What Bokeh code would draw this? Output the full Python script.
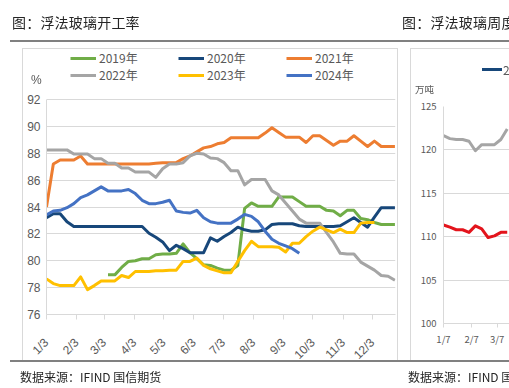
import math
import datetime as dt

from bokeh.plotting import figure
from bokeh.layouts import row
from bokeh.models import (Range1d, FixedTicker, Legend, LegendItem, ColumnDataSource, Div)
from bokeh.core.properties import value
from bokeh.embed import file_html
from bokeh.resources import INLINE

# ---------------- texts ----------------
left_title = "图：浮法玻璃开工率"
right_title = "图：浮法玻璃周度库存"
source_text = "数据来源：IFIND 国信期货"
unit_left = "%"
unit_right = "万吨"

# ---------------- data: float glass operating rate (%), weekly ----------------
series_names = ["2019年", "2020年", "2021年", "2022年", "2023年", "2024年"]
series_colors = ["#70AD47", "#17477A", "#ED7D31", "#A5A5A5", "#FFC000", "#4472C4"]

rate_2019_first_week = 9
rate_2019 = [78.95, 78.95, 79.5, 79.95, 80.0, 80.15, 80.15, 80.45, 80.5, 80.5,
             80.55, 81.25, 80.6, 80.15, 79.7, 79.65, 79.45, 79.3, 79.3, 79.65,
             83.9, 84.3, 84.05, 84.05, 84.05, 84.75, 84.75, 84.75, 84.4, 84.05,
             84.05, 84.05, 83.75, 83.7, 83.35, 83.75, 83.75, 83.15, 83.05, 82.85,
             82.7, 82.7, 82.7]
rate_2020 = [83.2, 83.5, 83.5, 82.9, 82.55, 82.55, 82.55, 82.55, 82.55, 82.55,
             82.55, 82.55, 82.55, 82.55, 82.55, 82.05, 81.75, 81.4, 80.75, 81.15,
             80.9, 80.6, 80.6, 80.6, 81.7, 81.45, 81.8, 82.1, 82.5, 82.3,
             82.2, 82.2, 82.3, 82.7, 82.75, 82.75, 82.75, 82.6, 82.55, 82.55,
             82.55, 82.55, 82.55, 82.6, 82.9, 83.2, 82.85, 82.5, 83.25, 83.95,
             83.95, 83.95]
rate_2021 = [84.0, 87.2, 87.5, 87.5, 87.5, 87.8, 87.2, 87.2, 87.2, 87.2,
             87.2, 87.2, 87.2, 87.2, 87.2, 87.2, 87.25, 87.3, 87.3, 87.3,
             87.6, 87.8, 88.1, 88.4, 88.5, 88.7, 88.8, 89.15, 89.15, 89.15,
             89.15, 89.15, 89.5, 89.9, 89.55, 89.2, 89.2, 89.2, 88.8, 89.3,
             89.3, 88.95, 88.6, 88.9, 88.9, 89.3, 88.9, 88.5, 88.9, 88.5,
             88.5, 88.5]
rate_2022 = [88.25, 88.25, 88.25, 88.25, 87.95, 87.95, 87.95, 87.6, 87.6, 87.25,
             87.25, 86.9, 86.9, 86.6, 86.6, 86.6, 86.2, 86.85, 87.2, 87.2,
             87.3, 87.8, 88.0, 87.95, 87.65, 87.6, 87.3, 86.7, 86.7, 85.65,
             86.05, 86.05, 86.05, 85.2, 84.9, 84.3, 83.7, 83.1, 82.8, 82.8,
             82.8, 82.1, 81.4, 80.55, 80.5, 80.5, 79.9, 79.6, 79.3, 78.9,
             78.85, 78.55]
rate_2023 = [78.65, 78.3, 78.15, 78.15, 78.15, 78.8, 77.85, 78.15, 78.5, 78.5,
             78.5, 78.9, 78.75, 79.2, 79.2, 79.2, 79.25, 79.25, 79.3, 79.3,
             79.95, 79.95, 80.2, 79.65, 79.4, 79.25, 79.1, 79.1, 79.95, 80.75,
             81.45, 81.05, 81.05, 81.05, 81.0, 80.65, 81.3, 81.3, 81.8, 82.2,
             82.5, 82.3, 82.1, 82.35, 82.1, 82.1, 82.8, 82.85, 82.85]
rate_2024 = [83.4, 83.7, 83.75, 83.95, 84.25, 84.7, 84.9, 85.2, 85.5, 85.2,
             85.2, 85.2, 85.3, 85.0, 84.5, 84.25, 84.25, 84.35, 84.5, 83.7,
             83.6, 83.55, 83.75, 83.2, 82.9, 82.8, 82.8, 82.8, 83.1, 83.45,
             83.3, 82.9, 82.2, 81.6, 81.3, 81.1, 80.9, 80.55]

left_tick_labels = ["1/3", "2/3", "3/3", "4/3", "5/3", "6/3",
                    "7/3", "8/3", "9/3", "10/3", "11/3", "12/3"]
left_y_ticks = [76, 78, 80, 82, 84, 86, 88, 90, 92]

# ---------------- data: right panel (weekly inventory, partly visible) ----------------
right_tick_labels = ["1/7", "2/7", "3/7"]
right_y_ticks = [100, 105, 110, 115, 120, 125]
inv_gray = [121.65, 121.3, 121.2, 121.2, 121.0, 119.9, 120.6, 120.6, 120.6, 121.2, 122.4]
inv_red = [111.35, 111.1, 110.8, 110.8, 110.5, 111.25, 110.9, 109.9, 110.1, 110.5, 110.5]
right_legend_first = "2024年"

DAYS_PER_WEEK = 7
GRID = "#D9D9D9"
LABEL = "#595959"
RULE = "#808080"
LATIN = "Liberation Sans Narrow, Noto Sans CJK SC"
CJK = "Noto Sans CJK SC"


def day_offsets(labels, year=2021):
    dates = []
    for lab in labels:
        m, d = lab.split("/")
        dates.append(dt.date(year, int(m), int(d)))
    return [(x - dates[0]).days for x in dates]


def style_axes(p, xt, xlabels, yt, fsize, xorient, xstand, ystand, tick_out):
    p.frame_align = False
    p.outline_line_color = None
    p.background_fill_color = "white"
    p.border_fill_color = "white"
    p.xgrid.grid_line_color = None
    p.ygrid.grid_line_color = GRID
    p.ygrid.grid_line_width = 1
    p.xaxis.ticker = FixedTicker(ticks=xt)
    p.xaxis.major_label_overrides = {t: lab for t, lab in zip(xt, xlabels)}
    if xorient is not None:
        p.xaxis.major_label_orientation = xorient
    p.xaxis.axis_line_color = GRID
    p.xaxis.major_tick_line_color = GRID
    p.xaxis.major_tick_out = tick_out
    p.xaxis.major_tick_in = 0
    p.xaxis.minor_tick_line_color = None
    p.xaxis.major_label_standoff = xstand
    p.yaxis.ticker = FixedTicker(ticks=yt)
    p.yaxis.bounds = (min(yt), max(yt))
    p.yaxis.axis_line_color = GRID
    p.yaxis.major_tick_out = 0
    p.yaxis.major_tick_in = 0
    p.yaxis.minor_tick_line_color = None
    p.yaxis.major_label_standoff = ystand
    for ax in (p.xaxis, p.yaxis):
        ax.major_label_text_font = fsize[0]
        ax.major_label_text_font_size = fsize[1]
        ax.major_label_text_color = LABEL


# ---------------- left figure: page x 0..400, y 0..388 ----------------
H = 388
PX_PER_PCT = (314 - 99) / 16.0
p1 = figure(width=400, height=H, x_range=Range1d(0, 357.6),
            y_range=Range1d(76, 92 + (99 - 49) / PX_PER_PCT),
            output_backend="svg", toolbar_location=None,
            min_border_left=46, min_border_right=5, min_border_top=49, min_border_bottom=74)
style_axes(p1, day_offsets(left_tick_labels), left_tick_labels, left_y_ticks,
           ("Liberation Sans", "12px"), math.pi / 4, 21, 6, 5)

all_series = [(rate_2019, rate_2019_first_week), (rate_2020, 0), (rate_2021, 0),
              (rate_2022, 0), (rate_2023, 0), (rate_2024, 0)]
renderers = []
for (vals, first), color in zip(all_series, series_colors):
    src = ColumnDataSource(dict(x=[(first + i) * DAYS_PER_WEEK for i in range(len(vals))], y=vals))
    renderers.append(p1.line("x", "y", source=src, line_color=color, line_width=3,
                             line_join="round"))

# legend: three columns of two rows, above the plotted data
for col, gx in enumerate([70, 178, 286]):
    a, b = col, col + 3
    leg = Legend(items=[LegendItem(label=value(series_names[a]), renderers=[renderers[a]]),
                        LegendItem(label=value(series_names[b]), renderers=[renderers[b]])],
                 location=(gx - 46, 314 - 83), orientation="vertical",
                 border_line_color=None, background_fill_alpha=0, padding=0, margin=0,
                 spacing=0, label_height=16, glyph_height=16, glyph_width=26,
                 label_standoff=3, label_text_font=LATIN, label_text_font_size="12px",
                 label_text_color=LABEL)
    p1.add_layout(leg)

# ---------------- right figure: page x 400..509 ----------------
p2 = figure(width=109, height=H, x_range=Range1d(0, 72.5), y_range=Range1d(100, 125),
            output_backend="svg", toolbar_location=None,
            min_border_left=43, min_border_right=0, min_border_top=106, min_border_bottom=65)
style_axes(p2, day_offsets(right_tick_labels), right_tick_labels, right_y_ticks,
           (LATIN, "9.5px"), None, 4, 7, 4)
for vals, color in [(inv_gray, "#A5A5A5"), (inv_red, "#E3141C")]:
    src = ColumnDataSource(dict(x=[i * DAYS_PER_WEEK for i in range(len(vals))], y=vals))
    p2.line("x", "y", source=src, line_color=color, line_width=3, line_join="round")

# ---------------- page decoration (titles, rules, panel frames, units, source) ----------------
def block(left, top, w, h, extra=""):
    return (f'<div style="position:absolute;left:{left}px;top:{top}px;width:{w}px;'
            f'height:{h}px;box-sizing:border-box;{extra}"></div>')


def text(left, cy, s, size, font, color, extra=""):
    return (f'<div style="position:absolute;left:{left}px;top:{cy - size / 2}px;'
            f'font-family:{font};font-size:{size}px;line-height:{size}px;color:{color};'
            f'white-space:nowrap;{extra}">{s}</div>')


parts = [
    text(12, 22, left_title, 14, CJK, "#262626", "letter-spacing:0.2px;"),
    text(402, 22, right_title, 14, CJK, "#262626", "letter-spacing:0.2px;"),
    block(10, 40, 499, 2, f"background:{RULE};"),
    block(22, 48, 376, 313, f"border:1px solid {GRID};"),
    block(410, 48, 120, 313, f"border:1px solid {GRID};"),
    block(10, 360, 499, 2, f"background:{RULE};"),
    text(31, 80, unit_left, 12, "Liberation Sans", LABEL),
    text(415, 90, unit_right, 9.5, CJK, LABEL),
    block(482, 68, 20, 3, "background:#17477A;"),
    text(503, 69.5, right_legend_first, 12, LATIN, LABEL),
    text(20, 377, source_text, 12, CJK, "#262626"),
    text(408, 377, source_text, 12, CJK, "#262626"),
]
decor = Div(width=0, height=0, margin=0,
            text=('<div style="position:fixed;left:0;top:0;width:509px;height:388px;'
                  'overflow:hidden;pointer-events:none;z-index:1000;">' + "".join(parts) + "</div>"))

layout = row(p1, p2, decor, spacing=0)
open("out.html", "w").write(file_html(layout, INLINE))
